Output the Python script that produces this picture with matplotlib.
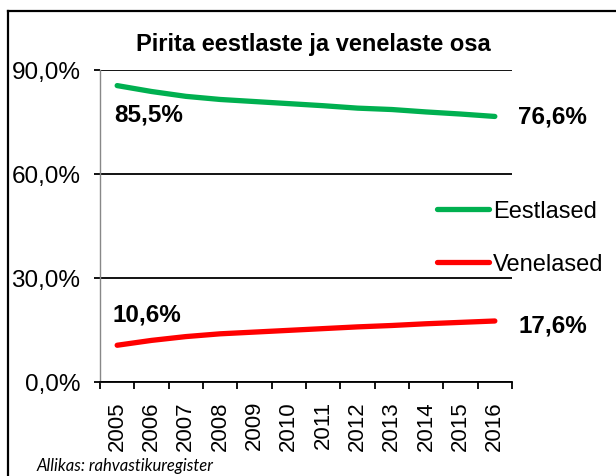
import numpy as np
import matplotlib.pyplot as plt
from matplotlib.lines import Line2D

years = ['2005', '2006', '2007', '2008', '2009', '2010',
         '2011', '2012', '2013', '2014', '2015', '2016']
eestlased = [85.5, 83.8, 82.4, 81.5, 80.9, 80.3, 79.7, 79.0, 78.6, 77.9, 77.3, 76.6]
venelased = [10.6, 12.0, 13.1, 13.9, 14.4, 14.9, 15.4, 15.9, 16.3, 16.8, 17.2, 17.6]
yticks = [0, 30, 60, 90]
ytick_labels = ['0,0%', '30,0%', '60,0%', '90,0%']

plt.rcParams['font.family'] = ['Liberation Sans', 'DejaVu Sans']

fig = plt.figure(figsize=(6.16, 4.77), dpi=100)
ax = fig.add_axes([100/616, 1-383/477, 412/616, 312/477])

x = np.arange(len(years))
ax.plot(x, eestlased, color='#00B050', lw=3.8, solid_capstyle='round', label='Eestlased')
ax.plot(x, venelased, color='#FF0000', lw=3.8, solid_capstyle='round', label='Venelased')

ax.set_xlim(-0.5, len(years) - 0.5)
ax.set_ylim(0, 90)
ax.set_yticks(yticks)
ax.set_yticklabels(ytick_labels, fontsize=17.5)
ax.tick_params(axis='y', length=4, width=1.3, color='black', pad=10)
ax.yaxis.grid(True, color='black', lw=1.3)
ax.set_axisbelow(True)

ax.set_xticks(x)
ax.set_xticklabels(years, rotation=90, fontsize=16)
ax.set_xticks(np.arange(len(years) + 1) - 0.5, minor=True)
ax.tick_params(axis='x', which='major', length=0, pad=13)
ax.tick_params(axis='x', which='minor', length=5, width=1.3, color='black')

for s in ['top', 'right']:
    ax.spines[s].set_visible(False)
ax.spines['left'].set_color('#888888')
ax.spines['left'].set_linewidth(1)
ax.spines['bottom'].set_linewidth(1.3)

# value labels at the ends
lbl = dict(fontsize=17.5, fontweight='bold')
ax.annotate(f"{eestlased[0]:.1f}%".replace('.', ','), (x[0], eestlased[0]),
            xytext=(-2, -12), textcoords='offset points', va='top', ha='left', **lbl)
ax.annotate(f"{venelased[0]:.1f}%".replace('.', ','), (x[0], venelased[0]),
            xytext=(-3, 14), textcoords='offset points', va='bottom', ha='left', **lbl)
ax.annotate(f"{eestlased[-1]:.1f}%".replace('.', ','), (x[-1], eestlased[-1]),
            xytext=(17, 0), textcoords='offset points', va='center', ha='left',
            annotation_clip=False, **lbl)
ax.annotate(f"{venelased[-1]:.1f}%".replace('.', ','), (x[-1], venelased[-1]),
            xytext=(17, -3), textcoords='offset points', va='center', ha='left',
            annotation_clip=False, **lbl)

fig.text(313/616, 1-45/477, 'Pirita eestlaste ja venelaste osa', ha='center', va='center',
         fontsize=17, fontweight='bold')

leg = fig.legend(loc='upper left', bbox_to_anchor=(428/616, 1-192/477), frameon=False,
                 fontsize=17, handlelength=2.2, handletextpad=0.15, labelspacing=1.3,
                 borderaxespad=0)

fig.text(37/616, 1-466/477, 'Allikas: rahvastikuregister', family=['Lato', 'DejaVu Sans'],
         style='italic', fontsize=12, va='center', ha='left')

# outer frame
fig.add_artist(Line2D([8/616, 8/616], [1-12/477, 0], transform=fig.transFigure, color='black', lw=1.6))
fig.add_artist(Line2D([8/616, 1], [1-12/477, 1-12/477], transform=fig.transFigure, color='black', lw=1.6))

fig.savefig('out.png', dpi=100)
